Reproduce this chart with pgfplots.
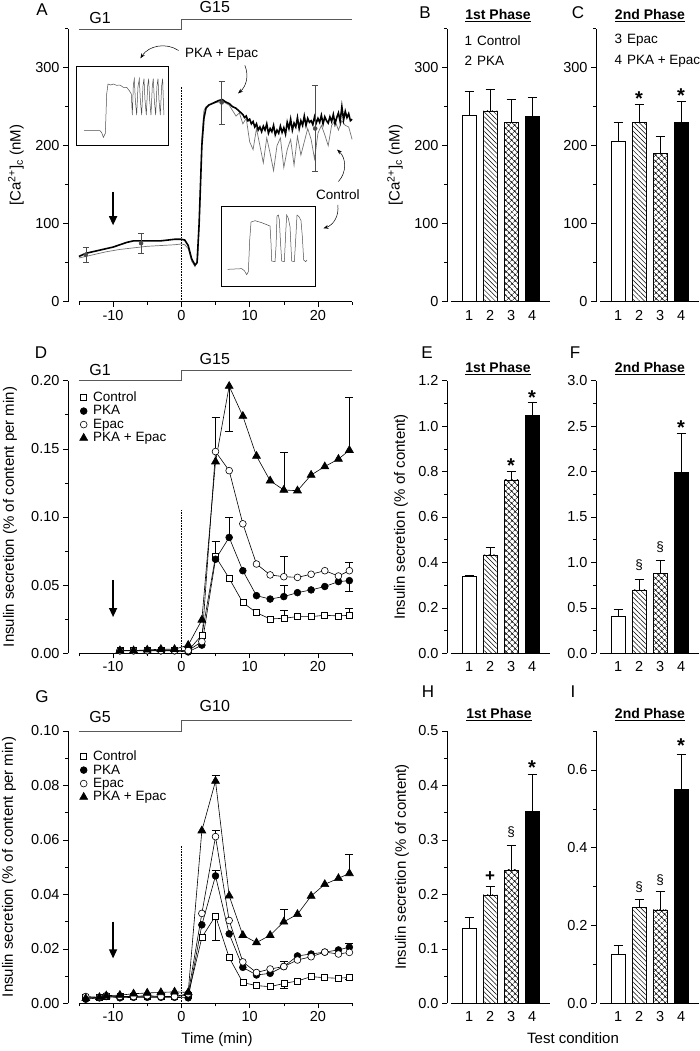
\documentclass[border=0pt]{standalone}
\usepackage{fontspec}
\setmainfont{Liberation Sans}
\usepackage{pgfplots}
\pgfplotsset{compat=1.18}
\usetikzlibrary{arrows.meta, patterns.meta}

\pgfplotsset{
  base/.style={scale only axis, clip=false, axis x line*=bottom, axis y line*=left,
    x axis line style={draw=none}, y axis line style={-, line width=0.6pt, black},
    tick align=outside, major tick length=5pt, minor tick length=3pt,
    tick style={line width=0.6pt, black},
    tick label style={font=\fontsize{14.5}{16}\selectfont},
    /pgf/number format/assume math mode=true,
    scaled y ticks=false, ymin=0, anchor=south west},
  timeax/.style={base, width=284.1pt, xmin=-16.6, xmax=25, xtick={-10,0,10,20}, minor xtick={-15,-5,5,15,25}},
  barax/.style={base, width=102.5pt, xmin=-0.05, xmax=4.83, xtick={1,2,3,4}, major x tick style={draw=none}},
  ebar/.style={/pgfplots/error bars/y dir=plus, /pgfplots/error bars/y explicit,
    /pgfplots/error bars/error bar style={line width=0.6pt, black, solid},
    /pgfplots/error bars/error mark options={rotate=90, mark size=4.5pt, line width=0.6pt, black}},
  bb/.style={ybar, bar width=14pt, bar shift=0pt, draw=black, line width=0.6pt, ebar},
  b1/.style={bb, fill=white},
  b2/.style={bb, pattern={Lines[angle=-45, distance=3.4pt, line width=0.5pt]}},
  b3/.style={bb, pattern={Hatch[angle=45, distance=4pt, line width=0.5pt]}},
  b4/.style={bb, fill=black},
  lineeb/.style={black, line width=0.6pt, only marks, mark=none, forget plot,
    /pgfplots/error bars/y explicit,
    /pgfplots/error bars/error bar style={line width=0.6pt, black, solid},
    /pgfplots/error bars/error mark options={rotate=90, mark size=4pt, line width=0.6pt, black}},
  sCtl/.style={black, line width=0.6pt, mark=square*, mark size=3pt, mark options={fill=white, solid}},
  sPKA/.style={black, line width=0.6pt, mark=*, mark size=3.4pt, mark options={fill=black, solid}},
  sEpac/.style={black, line width=0.6pt, mark=*, mark size=3.4pt, mark options={fill=white, solid}},
  sBoth/.style={black, line width=0.6pt, mark=triangle*, mark size=4.6pt, mark options={fill=black, solid}},
  legsty/.style={legend style={at={(axis description cs:#1)}, anchor=north west, draw=none, fill=none,
    font=\fontsize{13.5}{15}\selectfont, row sep=0.3pt, nodes={inner sep=1.2pt}},
    legend cell align=left,
    legend image code/.code={\path (0pt,0pt) (11pt,0pt); \draw[##1, only marks] plot coordinates {(3pt,0pt)};}},
}
\newcommand{\st}{\fontsize{20}{20}\selectfont\bfseries}
\newcommand{\pl}{\fontsize{17}{17}\selectfont}
\newcommand{\tl}{\fontsize{14}{16}\selectfont\bfseries}
\newcommand{\tx}{\fontsize{13.5}{15}\selectfont}
\newcommand{\lab}{\fontsize{15}{17}\selectfont}
\newcommand{\glab}{\fontsize{16}{17}\selectfont}

\begin{document}
\begin{tikzpicture}[x=1pt, y=1pt]
\useasboundingbox (0,0) rectangle (700,1051);

% ================= A =================
\begin{axis}[timeax, at={(68pt,749.3pt)}, height=273pt, ymax=350, ytick={0,100,200,300}, minor ytick={50,150,250,350}]
\draw[line width=0.6pt] (axis cs:-15,0) -- (axis cs:25,0);
\draw[densely dotted, line width=0.6pt] (axis cs:0,0) -- (axis cs:0,275);
\addplot[black!55, line width=0.7pt] coordinates {
(-15,56) (-13,60) (-11,64) (-9,67) (-7,69) (-5,71) (-3,72) (-1,73) (0,74) (0.5,73) (1,68) (1.5,52) (2,45) (2.4,55) (2.7,120) (3,210) (3.3,245) (3.6,250) (4,252) (5,255) (6,257) (7,252) (7.5,245) (8,238) (8.5,242) (9,228) (9.5,235) (10,205) (10.5,195) (11,222) (11.5,200) (12,178) (12.5,210) (13,190) (13.5,168) (14,200) (14.5,210) (15,172) (15.5,195) (16,208) (16.5,175) (17,212) (17.5,188) (18,205) (18.5,222) (19,208) (19.5,183) (20,216) (20.5,226) (21,214) (21.5,200) (22,226) (22.5,232) (23,220) (23.5,232) (24,226) (24.5,224) (25,208)};
\addplot[black, line width=1.6pt] coordinates {
(-15,58) (-14,62) (-13,64) (-12,66) (-11,68) (-10,70) (-9,73) (-8,76) (-7,78) (-6,78) (-5,78) (-4,78) (-3,78) (-2,79) (-1,80) (0,80) (0.5,79) (1,72) (1.5,55) (2,47) (2.3,50) (2.6,100) (2.8,150) (3,200) (3.3,235) (3.6,248) (4,252) (4.5,254) (5,256) (5.5,258) (6,259) (6.5,256) (7,254) (7.5,250) (8,248) (8.5,244) (9,240) (9.25,236) (9.5,238) (9.75,232) (10,234) (10.25,228) (10.5,231) (10.75,224) (11,228) (11.25,220) (11.5,224) (11.75,218) (12,225) (12.25,220) (12.5,228) (12.75,216) (13,222) (13.25,218) (13.5,226) (13.75,214) (14,220) (14.25,216) (14.5,225) (14.75,217) (15,223) (15.25,215) (15.5,230) (15.75,222) (16,234) (16.25,220) (16.5,229) (16.75,224) (17,236) (17.25,222) (17.5,232) (17.75,226) (18,238) (18.25,226) (18.5,235) (18.75,230) (19,232) (19.25,227) (19.5,237) (19.75,229) (20,235) (20.25,230) (20.5,239) (20.75,228) (21,237) (21.25,232) (21.5,229) (21.75,237) (22,231) (22.25,240) (22.5,228) (22.75,236) (23,242) (23.25,231) (23.5,250) (23.75,233) (24,244) (24.25,236) (24.5,241) (24.75,232) (25,234)};
\addplot[black!70, line width=0.5pt, only marks, mark=none, error bars/.cd, y dir=both, y explicit,
  error bar style={line width=0.5pt, black!70}, error mark options={rotate=90, mark size=3pt, line width=0.5pt, black!70}]
  coordinates {(-14,60) +- (0,10) (-5.9,75) +- (0,12.5) (5.9,255.5) +- (0,27.5) (19.6,222) +- (0,55)};
\draw[line width=1.3pt, -{Triangle[length=9pt, width=8pt]}] (axis cs:-10,141) -- (axis cs:-10,98);
\draw[black!65, line width=0.8pt] (axis cs:-15,349) -- (axis cs:0,349) -- (axis cs:0,362.4) -- (axis cs:25,362.4);
\node[font=\glab] at (axis cs:-11.9,363.7) {G1};
\node[font=\glab] at (axis cs:4.9,377.8) {G15};
\node[font=\tx] at (axis cs:5.9,317) {PKA + Epac};
\draw[line width=0.5pt, -{Stealth[length=5pt]}] (axis cs:-0.4,322) to[bend right=45] (axis cs:-6,312);
\draw[line width=0.5pt, -{Stealth[length=5pt]}] (axis cs:9.3,303) to[bend left=35] (axis cs:8.3,267);
\node[font=\tx] at (axis cs:22.9,136.8) {Control};
\draw[line width=0.5pt, -{Stealth[length=5pt]}] (axis cs:23,154) to[bend right=45] (axis cs:22.8,195);
\draw[line width=0.5pt, -{Stealth[length=5pt]}] (axis cs:22.9,124) to[bend left=40] (axis cs:20.8,94);
\end{axis}

% insets
\begin{axis}[at={(76.7pt,906pt)}, anchor=south west, scale only axis, width=91.6pt, height=78.3pt,
  xmin=230, xmax=505, ymin=-435, ymax=-200, xtick=\empty, ytick=\empty, axis line style={line width=0.6pt}, axis background/.style={fill=white}]
\addplot[black!70, line width=0.5pt] coordinates {
(252,-392) (300,-392) (305,-398) (310,-412) (316,-400) (320,-282) (324,-252) (332,-255) (340,-252) (350,-256) (360,-255) (370,-262) (380,-262) (388,-272) (394,-282) (397,-345) (400,-255) (403,-237) (406,-300) (410,-345) (414,-260) (418,-237) (421,-300) (425,-345) (429,-258) (432,-236) (435,-300) (439,-345) (443,-258) (446,-236) (449,-300) (453,-345) (457,-258) (460,-236) (463,-300) (467,-345) (471,-258) (474,-236) (477,-300) (481,-345) (485,-258) (488,-236) (490,-300) (492,-345)};
\end{axis}
\begin{axis}[at={(221.7pt,765pt)}, anchor=south west, scale only axis, width=93.3pt, height=79.3pt,
  xmin=20, xmax=300, ymin=-258, ymax=-20, xtick=\empty, ytick=\empty, axis line style={line width=0.6pt}, axis background/.style={fill=white}]
\addplot[black!70, line width=0.5pt] coordinates {
(38,-208) (80,-206) (88,-212) (95,-224) (100,-215) (104,-120) (108,-66) (120,-62) (130,-65) (140,-68) (150,-72) (165,-78) (168,-130) (170,-183) (180,-185) (183,-140) (186,-48) (190,-45) (193,-60) (196,-120) (200,-183) (208,-185) (212,-100) (215,-45) (220,-55) (225,-80) (230,-183) (238,-185) (242,-120) (246,-45) (252,-50) (258,-62) (262,-110) (266,-180) (272,-185) (276,-180)};
\end{axis}

% ================= B =================
\begin{axis}[barax, at={(447pt,749.3pt)}, height=273pt, ymax=350, ytick={0,100,200,300}, minor ytick={50,150,250,350}]
\draw[line width=0.6pt] (axis cs:0.14,0) -- (axis cs:4.83,0);
\addplot[b1] coordinates {(1,238.5) +- (0,31.5)};
\addplot[b2] coordinates {(2,244.5) +- (0,28.3)};
\addplot[b3] coordinates {(3,230) +- (0,29)};
\addplot[b4] coordinates {(4,237.7) +- (0,23.8)};
\end{axis}

% ================= C =================
\begin{axis}[barax, at={(596pt,749.3pt)}, height=273pt, ymax=350, ytick={0,100,200,300}, minor ytick={50,150,250,350}]
\draw[line width=0.6pt] (axis cs:0.14,0) -- (axis cs:4.83,0);
\addplot[b1] coordinates {(1,206) +- (0,24)};
\addplot[b2] coordinates {(2,230) +- (0,22.6)};
\addplot[b3] coordinates {(3,190.6) +- (0,21.4)};
\addplot[b4] coordinates {(4,230) +- (0,26.4)};
\node[font=\st, yshift=-4pt] at (axis cs:2,266) {*};
\node[font=\st, yshift=-4pt] at (axis cs:4,269) {*};
\end{axis}

% ================= D =================
\begin{axis}[timeax, at={(68pt,397.7pt)}, height=272.6pt, ymax=0.2, ytick={0,0.05,0.1,0.15,0.2}, minor ytick={0.025,0.075,0.125,0.175},
  yticklabel style={/pgf/number format/.cd, fixed, fixed zerofill, precision=2}, legsty={0.03,0.972}]
\draw[line width=0.6pt] (axis cs:-15,0) -- (axis cs:25,0);
\draw[densely dotted, line width=0.6pt] (axis cs:0,0) -- (axis cs:0,0.105);
\addplot[lineeb, error bars/y dir=plus] coordinates {(5,0.148) +- (0,0.025) (5,0.069) +- (0,0.013) (7,0.085) +- (0,0.015) (15,0.0562) +- (0,0.0152) (15,0.0416) +- (0,0.0084) (15,0.0257) +- (0,0.006) (15,0.1198) +- (0,0.028) (24.6,0.149) +- (0,0.039) (24.6,0.0606) +- (0,0.006) (24.6,0.0279) +- (0,0.005) (5,0.071) +- (0,0.011)};
\addplot[lineeb, error bars/y dir=minus] coordinates {(7,0.196) +- (0,0.033) (24.6,0.0533) +- (0,0.0076)};
\addplot[sCtl] coordinates {(-9,0.002) (-7,0.002) (-5,0.002) (-3,0.002) (-1,0.002) (1,0.002) (3,0.0134) (5,0.071) (7,0.055) (9,0.0372) (11,0.0298) (13,0.0252) (15,0.0257) (17,0.0269) (19,0.0269) (21,0.0279) (23,0.0274) (24.6,0.0279)};
\addplot[sPKA] coordinates {(-9,0.0018) (-7,0.0018) (-5,0.0018) (-3,0.0018) (-1,0.0018) (1,0.001) (3,0.006) (5,0.069) (7,0.085) (9,0.0606) (11,0.0423) (13,0.0398) (15,0.0416) (17,0.0445) (19,0.0465) (21,0.049) (23,0.0526) (24.6,0.0533)};
\addplot[sEpac] coordinates {(-9,0.002) (-7,0.002) (-5,0.002) (-3,0.002) (-1,0.002) (1,0.002) (3,0.0086) (5,0.148) (7,0.134) (9,0.095) (11,0.0655) (13,0.0575) (15,0.0562) (17,0.0557) (19,0.058) (21,0.0606) (23,0.0567) (24.6,0.0606)};
\addplot[sBoth] coordinates {(-9,0.002) (-7,0.002) (-5,0.0025) (-3,0.003) (-1,0.003) (1,0.006) (3,0.0245) (5,0.1406) (7,0.196) (9,0.174) (11,0.1447) (13,0.1266) (15,0.1198) (17,0.1193) (19,0.1308) (21,0.137) (23,0.1425) (24.6,0.149)};
\legend{Control, PKA, Epac, PKA + Epac}
\draw[line width=1.3pt, -{Triangle[length=9pt, width=8pt]}] (axis cs:-10,0.0538) -- (axis cs:-10,0.0266);
\draw[black!65, line width=0.8pt] (axis cs:-15,0.2) -- (axis cs:0,0.2) -- (axis cs:0,0.2076) -- (axis cs:25,0.2076);
\node[font=\glab] at (axis cs:-11.9,0.2081) {G1};
\node[font=\glab] at (axis cs:4.9,0.216) {G15};
\end{axis}

% ================= E =================
\begin{axis}[barax, at={(447pt,397.7pt)}, height=272.6pt, ymax=1.2, ytick={0,0.2,0.4,0.6,0.8,1.0,1.2}, minor ytick={0.1,0.3,0.5,0.7,0.9,1.1},
  yticklabel style={/pgf/number format/.cd, fixed, fixed zerofill, precision=1}]
\draw[line width=0.6pt] (axis cs:0.14,0) -- (axis cs:4.83,0);
\addplot[b1] coordinates {(1,0.337) +- (0,0.008)};
\addplot[b2] coordinates {(2,0.433) +- (0,0.032)};
\addplot[b3] coordinates {(3,0.763) +- (0,0.037)};
\addplot[b4] coordinates {(4,1.046) +- (0,0.059)};
\node[font=\st, yshift=-4pt] at (axis cs:3,0.843) {*};
\node[font=\st, yshift=-4pt] at (axis cs:4,1.145) {*};
\end{axis}

% ================= F =================
\begin{axis}[barax, at={(596pt,397.7pt)}, height=272.6pt, ymax=3, ytick={0,0.5,1,1.5,2,2.5,3}, minor ytick={0.25,0.75,1.25,1.75,2.25,2.75},
  yticklabel style={/pgf/number format/.cd, fixed, fixed zerofill, precision=1}]
\draw[line width=0.6pt] (axis cs:0.14,0) -- (axis cs:4.83,0);
\addplot[b1] coordinates {(1,0.403) +- (0,0.081)};
\addplot[b2] coordinates {(2,0.697) +- (0,0.117)};
\addplot[b3] coordinates {(3,0.880) +- (0,0.147)};
\addplot[b4] coordinates {(4,1.988) +- (0,0.432)};
\node[font=\tx] at (axis cs:2,0.972) {§};
\node[font=\tx] at (axis cs:3,1.173) {§};
\node[font=\st, yshift=-4pt] at (axis cs:4,2.53) {*};
\end{axis}

% ================= G =================
\begin{axis}[timeax, at={(68pt,47.7pt)}, height=272.3pt, ymax=0.1, ytick={0,0.02,0.04,0.06,0.08,0.1}, minor ytick={0.01,0.03,0.05,0.07,0.09},
  yticklabel style={/pgf/number format/.cd, fixed, fixed zerofill, precision=2}, legsty={0.03,0.94}]
\draw[line width=0.6pt] (axis cs:-15,0) -- (axis cs:25,0);
\draw[densely dotted, line width=0.6pt] (axis cs:0,0) -- (axis cs:0,0.058);
\addplot[lineeb, error bars/y dir=plus] coordinates {(5,0.0816) +- (0,0.0022) (5,0.0612) +- (0,0.0024) (5,0.0468) +- (0,0.0022) (15,0.0299) +- (0,0.0046) (24.6,0.0477) +- (0,0.0071) (24.6,0.0206) +- (0,0.0014) (15,0.0135) +- (0,0.0018)};
\addplot[lineeb, error bars/y dir=minus] coordinates {(5,0.0321) +- (0,0.0088) (15,0.0073) +- (0,0.0018) (24.6,0.0095) +- (0,0.0008)};
\addplot[sCtl] coordinates {(-14,0.0022) (-12,0.0022) (-11,0.0025) (-9,0.0024) (-7,0.0024) (-5,0.0024) (-3,0.0024) (-1,0.0025) (1,0.003) (3,0.0242) (5,0.0321) (7,0.0168) (9,0.0076) (11,0.0065) (13,0.0061) (15,0.0073) (17,0.0082) (19,0.0098) (21,0.0094) (23,0.0092) (24.6,0.0095)};
\addplot[sPKA] coordinates {(-14,0.0015) (-12,0.002) (-11,0.0025) (-9,0.002) (-7,0.0022) (-5,0.0022) (-3,0.0022) (-1,0.0022) (1,0.002) (3,0.0288) (5,0.0468) (7,0.0255) (9,0.0132) (11,0.0104) (13,0.011) (15,0.0135) (17,0.0174) (19,0.0181) (21,0.0188) (23,0.0196) (24.6,0.0206)};
\addplot[sEpac] coordinates {(-14,0.0025) (-12,0.0022) (-11,0.0028) (-9,0.0025) (-7,0.0025) (-5,0.0028) (-3,0.0025) (-1,0.0025) (1,0.0035) (3,0.033) (5,0.0612) (7,0.0304) (9,0.0152) (11,0.0113) (13,0.0126) (15,0.0135) (17,0.0159) (19,0.0171) (21,0.0188) (23,0.0181) (24.6,0.0187)};
\addplot[sBoth] coordinates {(-14,0.0018) (-12,0.0022) (-11,0.0028) (-9,0.003) (-7,0.0035) (-5,0.0038) (-3,0.004) (-1,0.0042) (1,0.004) (3,0.0634) (5,0.0816) (7,0.0395) (9,0.025) (11,0.0223) (13,0.025) (15,0.0299) (17,0.0327) (19,0.0394) (21,0.0437) (23,0.0459) (24.6,0.0477)};
\legend{Control, PKA, Epac, PKA + Epac}
\draw[line width=1.3pt, -{Triangle[length=9pt, width=8pt]}] (axis cs:-10,0.030) -- (axis cs:-10,0.0165);
\draw[black!65, line width=0.8pt] (axis cs:-15,0.1) -- (axis cs:0,0.1) -- (axis cs:0,0.104) -- (axis cs:25,0.104);
\node[font=\glab] at (axis cs:-11.9,0.105) {G5};
\node[font=\glab] at (axis cs:4.9,0.109) {G10};
\end{axis}

% ================= H =================
\begin{axis}[barax, at={(447pt,47.7pt)}, height=272.3pt, ymax=0.5, ytick={0,0.1,0.2,0.3,0.4,0.5}, minor ytick={0.05,0.15,0.25,0.35,0.45},
  yticklabel style={/pgf/number format/.cd, fixed, fixed zerofill, precision=1}]
\draw[line width=0.6pt] (axis cs:0.14,0) -- (axis cs:4.83,0);
\addplot[b1] coordinates {(1,0.1377) +- (0,0.0203)};
\addplot[b2] coordinates {(2,0.199) +- (0,0.015)};
\addplot[b3] coordinates {(3,0.245) +- (0,0.046)};
\addplot[b4] coordinates {(4,0.353) +- (0,0.067)};
\node[font=\fontsize{17}{17}\selectfont\bfseries] at (axis cs:2,0.2325) {+};
\node[font=\tx] at (axis cs:3,0.315) {§};
\node[font=\st, yshift=-4pt] at (axis cs:4,0.4407) {*};
\end{axis}

% ================= I =================
\begin{axis}[barax, at={(596pt,47.7pt)}, height=272.3pt, ymax=0.7, ytick={0,0.2,0.4,0.6}, minor ytick={0.1,0.3,0.5,0.7},
  yticklabel style={/pgf/number format/.cd, fixed, fixed zerofill, precision=1}]
\draw[line width=0.6pt] (axis cs:0.14,0) -- (axis cs:4.83,0);
\addplot[b1] coordinates {(1,0.127) +- (0,0.021)};
\addplot[b2] coordinates {(2,0.247) +- (0,0.021)};
\addplot[b3] coordinates {(3,0.240) +- (0,0.047)};
\addplot[b4] coordinates {(4,0.549) +- (0,0.091)};
\node[font=\tx] at (axis cs:2,0.2997) {§};
\node[font=\tx] at (axis cs:3,0.317) {§};
\node[font=\st, yshift=-4pt] at (axis cs:4,0.6725) {*};
\end{axis}

% ================= labels =================
\node[font=\pl] at (42,1041) {A};
\node[font=\pl] at (425,1038) {B};
\node[font=\pl] at (578,1038) {C};
\node[font=\pl] at (41,698) {D};
\node[font=\pl] at (427,698) {E};
\node[font=\pl] at (575,698) {F};
\node[font=\pl] at (42,354) {G};
\node[font=\pl] at (428,359) {H};
\node[font=\pl] at (573,359) {I};

\node[font=\tl] at (498,1035) {\underline{1st Phase}};
\node[font=\tl] at (650,1035) {\underline{2nd Phase}};
\node[font=\tl] at (498,682.7) {\underline{1st Phase}};
\node[font=\tl] at (650,682.7) {\underline{2nd Phase}};
\node[font=\tl] at (499,336) {\underline{1st Phase}};
\node[font=\tl] at (650,336) {\underline{2nd Phase}};

\node[font=\lab, rotate=90] at (16,886) {[Ca\textsuperscript{2+}]\textsubscript{c} (nM)};
\node[font=\lab, rotate=90] at (395,886) {[Ca\textsuperscript{2+}]\textsubscript{c} (nM)};
\node[font=\lab, rotate=90] at (10,534) {Insulin secretion (\% of content per min)};
\node[font=\lab, rotate=90] at (401,534) {Insulin secretion (\% of content)};
\node[font=\lab, rotate=90] at (9,184) {Insulin secretion (\% of content per min)};
\node[font=\lab, rotate=90] at (402,184) {Insulin secretion (\% of content)};
\node[font=\lab] at (217,11) {Time (min)};
\node[font=\lab] at (573,12.7) {Test condition};

\node[font=\tx, anchor=west] at (461,1010.3) {1\hspace{5pt}Control};
\node[font=\tx, anchor=west] at (461,990) {2\hspace{5pt}PKA};
\node[font=\tx, anchor=west] at (611,1010.3) {3\hspace{5pt}Epac};
\node[font=\tx, anchor=west] at (611,990) {4\hspace{5pt}PKA + Epac};
\end{tikzpicture}
\end{document}
